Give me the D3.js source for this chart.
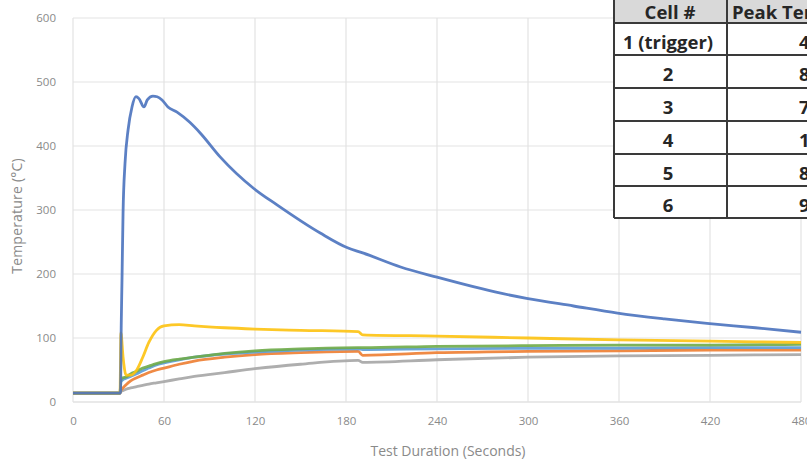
<!DOCTYPE html>
<html>
<head>
	<title>Cell temperatures</title>
	<style>
		body { margin: 0; background: #fff; }
		text { font-family: "Open Sans", sans-serif; }
	</style>
</head>
<body>
	<svg id="container" width="807" height="466"></svg>
</body>
<script type="text/javascript" src="https://cdn.jsdelivr.net/npm/d3@7"></script>
<script>
	// cell 1 (trigger) has its own finer time base for the spike
	let triggerTimes = [0, 31.3, 31.8, 32.3, 33, 34.3, 36.3, 38.9, 41.5, 43.5, 46.8, 49, 52.7, 55.5, 58.7, 62.6, 68.6, 77, 84, 97, 119, 134.5, 163, 181, 191, 216, 240, 282, 299, 330, 359, 390, 418, 450, 480]
	let cell1 = [14, 14, 120, 190, 295, 373, 425, 461, 477, 474, 461, 472, 478, 477, 472, 461, 453, 437, 420, 383, 334, 308, 264, 241, 233, 211, 195, 170, 162, 150, 139, 130, 123, 116, 109]

	let times = [0, 31, 31.6, 33, 35, 38, 42, 46, 50, 55, 60, 70, 80, 100, 120, 150, 188, 191, 240, 300, 360, 420, 480]
	let cell2 = [14, 14, 18, 22, 27, 33, 38, 42, 46, 50, 53, 59, 64, 70, 74, 77, 79, 73, 77, 79, 80, 81, 81]
	let cell3 = [14, 14, 16, 18, 20, 22, 24, 26, 28, 30, 32, 36, 40, 46, 52, 59, 65, 62, 66, 70, 72, 73, 74]
	let cell4 = [14, 14, 108, 70, 42, 42, 50, 70, 93, 112, 119, 121, 119, 116, 114, 112, 110, 105, 103, 100, 97, 95, 93]
	let cell5 = [14, 14, 32, 35, 37, 40, 44, 49, 53, 58, 61, 66, 70, 75, 78, 81, 83, 82, 83, 84, 84, 85, 85]
	let cell6 = [14, 14, 36, 38, 39, 44, 48, 53, 56, 60, 63, 67, 70, 76, 80, 83, 85, 85, 87, 88, 89, 89, 90]

	let xTicks = [0, 60, 120, 180, 240, 300, 360, 420, 480]
	let yTicks = [0, 100, 200, 300, 400, 500, 600]

	let tableCells = ["1 (trigger)", "2", "3", "4", "5", "6"]
	let tablePeaks = ["478", "81", "74", "121", "85", "90"]

	let colors = ["#4a72be", "#ed7d31", "#a5a5a5", "#fdc20f", "#5b9bd5", "#6fab48"]

	let series = [
		{ name: "1", x: triggerTimes, y: cell1 },
		{ name: "2", x: times, y: cell2 },
		{ name: "3", x: times, y: cell3 },
		{ name: "4", x: times, y: cell4 },
		{ name: "5", x: times, y: cell5 },
		{ name: "6", x: times, y: cell6 }
	]

	let container = d3.select("#container")

	let xScale = d3.scaleLinear().domain([0, 480]).range([73, 801])
	let yScale = d3.scaleLinear().domain([0, 600]).range([402, 18])

	// gridlines
	container.append("g").selectAll("line")
		.data(yTicks)
		.enter().append("line")
		.attr("x1", xScale(0)).attr("x2", xScale(480))
		.attr("y1", d => yScale(d)).attr("y2", d => yScale(d))
		.attr("stroke", d => d == 0 ? "#d4d4d4" : "#e3e3e3")
		.attr("stroke-width", 1.2)

	container.append("g").selectAll("line")
		.data(xTicks)
		.enter().append("line")
		.attr("x1", d => xScale(d)).attr("x2", d => xScale(d))
		.attr("y1", yScale(600)).attr("y2", yScale(0))
		.attr("stroke", "#e3e3e3")
		.attr("stroke-width", 1.2)

	// axes, only the labels are shown
	let xAxis = d3.axisBottom(xScale).tickValues(xTicks).tickSize(0).tickPadding(15)
	let yAxis = d3.axisLeft(yScale).tickValues(yTicks).tickSize(0).tickPadding(17)

	container.append("g")
		.attr("transform", "translate(0," + yScale(0) + ")")
		.call(xAxis)
		.call(g => g.select(".domain").remove())
		.selectAll("text")
		.attr("fill", "#8a8a8a")
		.attr("font-size", 11.5)
		.attr("font-family", "Open Sans")

	container.append("g")
		.attr("transform", "translate(" + xScale(0) + ",0)")
		.call(yAxis)
		.call(g => g.select(".domain").remove())
		.selectAll("text")
		.attr("fill", "#8a8a8a")
		.attr("font-size", 11.5)
		.attr("font-family", "Open Sans")

	container.append("text")
		.attr("x", 448).attr("y", 456)
		.attr("text-anchor", "middle")
		.attr("fill", "#8a8a8a")
		.attr("font-size", 14)
		.text("Test Duration (Seconds)")

	container.append("text")
		.attr("transform", "translate(22,216) rotate(-90)")
		.attr("text-anchor", "middle")
		.attr("fill", "#8a8a8a")
		.attr("font-size", 14)
		.attr("letter-spacing", 0.2)
		.text("Temperature (°C)")

	let line = d3.line()
		.x(d => xScale(d[0]))
		.y(d => yScale(d[1]))
		.curve(d3.curveMonotoneX)

	// draw trigger cell last so it sits on top
	let order = [2, 1, 4, 5, 3, 0]
	container.append("g").selectAll("path")
		.data(order.map(i => series[i]))
		.enter().append("path")
		.attr("d", s => line(s.x.map((t, i) => [t, s.y[i]])))
		.attr("fill", "none")
		.attr("stroke", s => colors[+s.name - 1])
		.attr("stroke-width", 2.8)
		.attr("stroke-linejoin", "round")
		.attr("stroke-opacity", 0.9)

	// peak temperature table in the top right corner
	let table = container.append("g")
	let rowTop = [-9, 23, 55, 88, 121, 154, 186]
	let colX = [614, 727, 900]
	table.append("rect")
		.attr("x", colX[0]).attr("y", rowTop[0])
		.attr("width", colX[2] - colX[0]).attr("height", 218 - rowTop[0])
		.attr("fill", "#fff")
	table.append("rect")
		.attr("x", colX[0]).attr("y", rowTop[0])
		.attr("width", colX[2] - colX[0]).attr("height", rowTop[1] - rowTop[0])
		.attr("fill", "#d9d9d9")

	let rowLines = rowTop.slice(1).concat([218])
	table.selectAll(".hline")
		.data(rowLines)
		.enter().append("line")
		.attr("x1", colX[0]).attr("x2", colX[2])
		.attr("y1", d => d).attr("y2", d => d)
		.attr("stroke", "#3a3a3a")
		.attr("stroke-width", 2)
	table.selectAll(".vline")
		.data(colX.slice(0, 2))
		.enter().append("line")
		.attr("x1", d => d).attr("x2", d => d)
		.attr("y1", rowTop[0]).attr("y2", 218)
		.attr("stroke", "#3a3a3a")
		.attr("stroke-width", 2)

	let tableText = (x, y, s, anchor) => table.append("text")
		.attr("x", x).attr("y", y)
		.attr("text-anchor", anchor)
		.attr("dominant-baseline", "central")
		.attr("fill", "#262626")
		.attr("font-weight", "bold")
		.attr("font-size", 18.5)
		.attr("font-family", "Noto Sans")
		.text(s)

	tableText(670, 11, "Cell #", "middle")
	tableText(732, 11, "Peak Temperature (°C)", "start")
	tableCells.forEach((c, i) => {
		let mid = (rowTop[i + 1] + rowLines[i + 1]) / 2 + 2
		tableText(668, mid, c, "middle")
		tableText(799, mid, tablePeaks[i], "start")
	})
</script>
</html>
